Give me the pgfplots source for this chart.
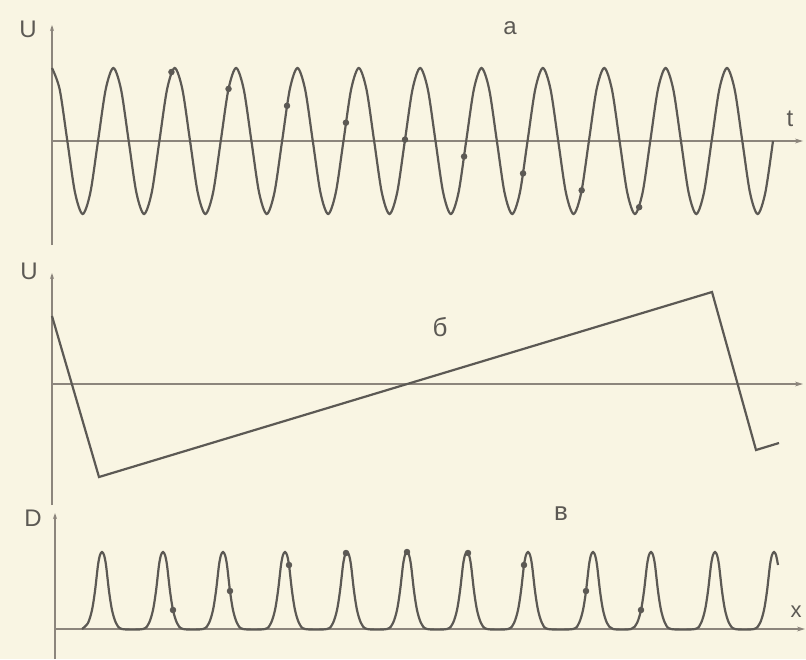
\documentclass[border=0pt]{standalone}
\usepackage{fontspec}
\setmainfont{Liberation Sans}
\usepackage{pgfplots}
\pgfplotsset{compat=1.18}
\usetikzlibrary{arrows.meta}

\definecolor{paper}{RGB}{249,245,227}
\definecolor{ink}{RGB}{92,89,84}
\definecolor{axisgray}{RGB}{140,133,124}

\pgfplotsset{
  scheme/.style={
    axis x line=middle, axis y line=left,
    xtick=\empty, ytick=\empty,
    enlargelimits=false, clip=false,
    anchor=south west,
    axis line style={axisgray, line width=0.7pt},
    x axis line style={-{Stealth[length=4pt,width=2.4pt]}},
    y axis line style={-{Stealth[length=3pt,width=2pt]}},
  },
  wave/.style={ink, line width=1.1pt, no marks},
  dots/.style={only marks, mark=*, mark size=1.4pt, ink},
}

\begin{document}
\begin{tikzpicture}
\fill[paper] (0,0) rectangle (403pt,-329.5pt);

% a: sine, x in periods, y in px above the axis
\begin{axis}[scheme, at={(26pt,-122.5pt)},
    x=30.68pt, y=0.5pt, xmin=0, xmax=12.24, ymin=-104, ymax=116]
  \addplot[wave, smooth] coordinates {
    (0,73)(0.125,51.6)(0.25,0)(0.375,-51.6)(0.5,-73)(0.625,-51.6)(0.75,0)(0.875,51.6)
    (1,73)(1.125,51.6)(1.25,0)(1.375,-51.6)(1.5,-73)(1.625,-51.6)(1.75,0)(1.875,51.6)
    (2,73)(2.125,51.6)(2.25,0)(2.375,-51.6)(2.5,-73)(2.625,-51.6)(2.75,0)(2.875,51.6)
    (3,73)(3.125,51.6)(3.25,0)(3.375,-51.6)(3.5,-73)(3.625,-51.6)(3.75,0)(3.875,51.6)
    (4,73)(4.125,51.6)(4.25,0)(4.375,-51.6)(4.5,-73)(4.625,-51.6)(4.75,0)(4.875,51.6)
    (5,73)(5.125,51.6)(5.25,0)(5.375,-51.6)(5.5,-73)(5.625,-51.6)(5.75,0)(5.875,51.6)
    (6,73)(6.125,51.6)(6.25,0)(6.375,-51.6)(6.5,-73)(6.625,-51.6)(6.75,0)(6.875,51.6)
    (7,73)(7.125,51.6)(7.25,0)(7.375,-51.6)(7.5,-73)(7.625,-51.6)(7.75,0)(7.875,51.6)
    (8,73)(8.125,51.6)(8.25,0)(8.375,-51.6)(8.5,-73)(8.625,-51.6)(8.75,0)(8.875,51.6)
    (9,73)(9.125,51.6)(9.25,0)(9.375,-51.6)(9.5,-73)(9.625,-51.6)(9.75,0)(9.875,51.6)
    (10,73)(10.125,51.6)(10.25,0)(10.375,-51.6)(10.5,-73)(10.625,-51.6)(10.75,0)(10.875,51.6)
    (11,73)(11.125,51.6)(11.25,0)(11.375,-51.6)(11.5,-73)(11.625,-51.6)(11.75,0)
  };
  \addplot[dots] coordinates {
    (1.947,69)(2.877,52.1)(3.830,35.2)(4.790,18.3)(5.753,1.4)
    (6.716,-15.5)(7.677,-32.4)(8.632,-49.3)(9.569,-66.2)
  };
\end{axis}

% b: sawtooth, x in px
\begin{axis}[scheme, at={(26pt,-252.5pt)},
    x=0.5pt, y=0.5pt, xmin=52, xmax=803, ymin=-121, ymax=111]
  \addplot[wave] coordinates {(52,68)(99,-93)(712,92)(756,-66)(779,-59)};
\end{axis}

% c: peaks, x in px
\begin{axis}[scheme, at={(27.5pt,-329.5pt)},
    x=0.5pt, y=0.5pt, xmin=55, xmax=805, ymin=-30, ymax=116]
  \addplot[wave, smooth] coordinates {
    (82,0)(88,6)(92,19)(95,38)(98,64)(100,74)(102,77)(104,74)(106,64)(109,38)(112,19)(116,6)(122,0)
    (143,0)(149,6)(153,19)(156,38)(159,64)(161,74)(163,77)(165,74)(167,64)(170,38)(173,19)(177,6)(183,0)
    (203,0)(209,6)(213,19)(216,38)(219,64)(221,74)(223,77)(225,74)(227,64)(230,38)(233,19)(237,6)(243,0)
    (265,0)(271,6)(275,19)(278,38)(281,64)(283,74)(285,77)(287,74)(289,64)(292,38)(295,19)(299,6)(305,0)
    (327,0)(333,6)(337,19)(340,38)(343,64)(345,74)(347,77)(349,74)(351,64)(354,38)(357,19)(361,6)(367,0)
    (387,0)(393,6)(397,19)(400,38)(403,64)(405,74)(407,77)(409,74)(411,64)(414,38)(417,19)(421,6)(427,0)
    (447,0)(453,6)(457,19)(460,38)(463,64)(465,74)(467,77)(469,74)(471,64)(474,38)(477,19)(481,6)(487,0)
    (508,0)(514,6)(518,19)(521,38)(524,64)(526,74)(528,77)(530,74)(532,64)(535,38)(538,19)(542,6)(548,0)
    (573,0)(579,6)(583,19)(586,38)(589,64)(591,74)(593,77)(595,74)(597,64)(600,38)(603,19)(607,6)(613,0)
    (631,0)(637,6)(641,19)(644,38)(647,64)(649,74)(651,77)(653,74)(655,64)(658,38)(661,19)(665,6)(671,0)
    (695,0)(701,6)(705,19)(708,38)(711,64)(713,74)(715,77)(717,74)(719,64)(722,38)(725,19)(729,6)(735,0)
    (754,0)(760,6)(764,19)(767,38)(770,64)(772,74)(774,77)(776,74)(778,64)
  };
  \addplot[dots] coordinates {
    (173,19)(230,38)(289,64)(346,76)(407,77)(468,76)(524,64)(586,38)(641,19)
  };
\end{axis}

% labels, placed in px of the reference
\begin{scope}[x=0.5pt, y=-0.5pt, every node/.style={text=ink, inner sep=0pt}]
  \node[font=\fontsize{12}{14}\selectfont] at (28,29) {U};
  \node[font=\fontsize{12}{14}\selectfont] at (510,28) {а};
  \node[font=\fontsize{12}{14}\selectfont] at (790,119) {t};
  \node[font=\fontsize{12}{14}\selectfont] at (29,271) {U};
  \node[font=\fontsize{13}{15}\selectfont] at (440,327) {б};
  \node[font=\fontsize{12}{14}\selectfont] at (33,518) {D};
  \node[font=\fontsize{13}{15}\selectfont] at (561,514) {в};
  \node[font=\fontsize{11}{13}\selectfont] at (796,612) {x};
\end{scope}

\pgfresetboundingbox
\path (0,0) rectangle (403pt,-329.5pt);
\end{tikzpicture}
\end{document}
